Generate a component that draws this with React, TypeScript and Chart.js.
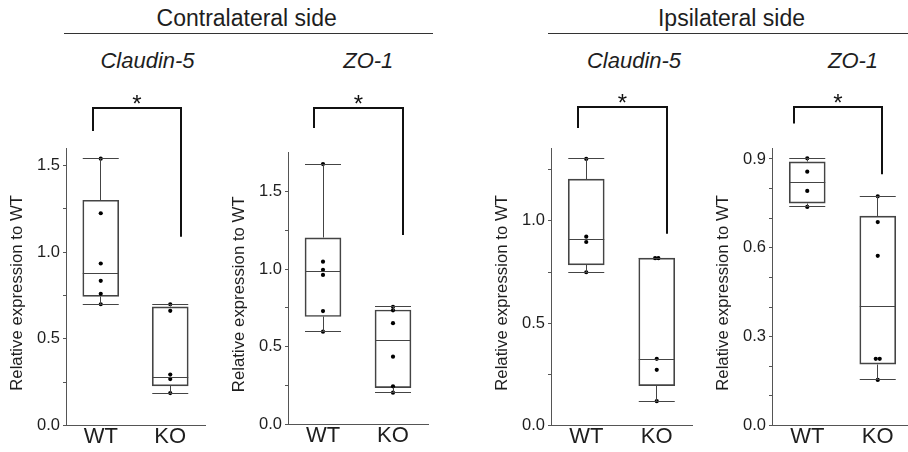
import React, { useEffect, useRef } from 'react';
import { Chart, registerables } from 'chart.js';

Chart.register(...registerables);

const FONT = "'Liberation Sans', Arial, Helvetica, sans-serif";

const groups = ['WT', 'KO'];
const sideTitles = ['Contralateral side', 'Ipsilateral side'];
const geneTitles = ['Claudin-5', 'ZO-1', 'Claudin-5', 'ZO-1'];
const yTitle = 'Relative expression to WT';
const sigMark = '*';

// box summaries: [min, q1, median, q3, max]
const contraCldn5WT = [0.70, 0.745, 0.88, 1.30, 1.54];
const contraCldn5KO = [0.187, 0.229, 0.279, 0.685, 0.70];
const contraZo1WT = [0.597, 0.695, 0.983, 1.202, 1.678];
const contraZo1KO = [0.204, 0.236, 0.539, 0.737, 0.758];
const ipsiCldn5WT = [0.749, 0.785, 0.907, 1.204, 1.303];
const ipsiCldn5KO = [0.119, 0.195, 0.324, 0.818, 0.818];
const ipsiZo1WT = [0.738, 0.751, 0.822, 0.890, 0.902];
const ipsiZo1KO = [0.154, 0.207, 0.401, 0.707, 0.774];

// individual data points
const contraCldn5WTPts = [1.54, 1.225, 0.935, 0.835, 0.76, 0.70];
const contraCldn5KOPts = [0.70, 0.662, 0.294, 0.268, 0.187];
const contraZo1WTPts = [1.678, 1.049, 0.996, 0.963, 0.73, 0.597];
const contraZo1KOPts = [0.758, 0.735, 0.652, 0.436, 0.245, 0.204];
const ipsiCldn5WTPts = [1.303, 0.923, 0.897, 0.749];
const ipsiCldn5KOPts = [0.818, 0.818, 0.326, 0.272, 0.119];
const ipsiZo1WTPts = [0.902, 0.857, 0.792, 0.738];
const ipsiZo1KOPts = [0.774, 0.687, 0.573, 0.225, 0.225, 0.154];

// horizontal jitter of overlapping points (category units)
const ipsiCldn5KOJitter = [-0.023, 0.023, 0, 0, 0];
const ipsiZo1KOJitter = [0, 0, 0, -0.028, 0.028, 0];

// y-axis ticks
const ticksA = [0, 0.25, 0.5, 0.75, 1.0, 1.25, 1.5];
const labelsA = [0, 0.5, 1.0, 1.5];
const ticksC = [0, 0.25, 0.5, 0.75, 1.0, 1.25];
const labelsC = [0, 0.5, 1.0];
const ticksD = [0, 0.1, 0.2, 0.3, 0.4, 0.5, 0.6, 0.7, 0.8, 0.9];
const labelsD = [0, 0.3, 0.6, 0.9];
const yMaxes = [1.6, 1.754, 1.355, 0.936];

// significance brackets: leg end values and x extents
const bracketLeftEnd = [1.70, 1.91, 1.454, 1.02];
const bracketRightEnd = [1.09, 1.22, 0.937, 0.848];
const bracketXFrom = [-0.11, -0.131, -0.122, -0.183];
const bracketXTo = [1.153, 1.138, 1.149, 1.063];

const panels = [
  { wt: contraCldn5WT, ko: contraCldn5KO, wtPts: contraCldn5WTPts, koPts: contraCldn5KOPts, koJit: null, ticks: ticksA, labels: labelsA },
  { wt: contraZo1WT, ko: contraZo1KO, wtPts: contraZo1WTPts, koPts: contraZo1KOPts, koJit: null, ticks: ticksA, labels: labelsA },
  { wt: ipsiCldn5WT, ko: ipsiCldn5KO, wtPts: ipsiCldn5WTPts, koPts: ipsiCldn5KOPts, koJit: ipsiCldn5KOJitter, ticks: ticksC, labels: labelsC },
  { wt: ipsiZo1WT, ko: ipsiZo1KO, wtPts: ipsiZo1WTPts, koPts: ipsiZo1KOPts, koJit: ipsiZo1KOJitter, ticks: ticksD, labels: labelsD },
];

const layout = [
  { axisX: 66, right: 209, top: 148.3, bottom: 425.5, bracketTop: 108, geneX: 147.5 },
  { axisX: 288, right: 432, top: 152.3, bottom: 424.3, bracketTop: 108, geneX: 368.3 },
  { axisX: 551, right: 696, top: 148.3, bottom: 425.5, bracketTop: 107, geneX: 634 },
  { axisX: 772, right: 917, top: 148.3, bottom: 425.5, bracketTop: 107, geneX: 853 },
];

const YAXIS_W = 66;
const BOX_W = 36;
const H = 452;
const LINE = '#444';
const TEXT = '#1e1e1e';

const crisp = (v: number) => Math.floor(v) + 0.5;

const boxPlugin = {
  id: 'boxExtras',
  afterDatasetsDraw(chart: any, _args: any, opts: any) {
    const idx = opts.idx;
    const p = panels[idx];
    const L = layout[idx];
    const { ctx } = chart;
    const xs = chart.scales.x;
    const ys = chart.scales.y;
    ctx.save();
    ctx.strokeStyle = LINE;
    ctx.lineWidth = 1;
    [p.wt, p.ko].forEach((b, i) => {
      const cx = xs.getPixelForValue(i);
      const x0 = cx - BOX_W / 2;
      const x1 = cx + BOX_W / 2;
      const [mn, q1, md, q3, mx] = b.map((v: number) => crisp(ys.getPixelForValue(v)));
      const cxx = crisp(cx);
      ctx.beginPath();
      ctx.moveTo(x0, md); ctx.lineTo(x1, md);
      ctx.moveTo(cxx, q3); ctx.lineTo(cxx, mx);
      ctx.moveTo(x0, mx); ctx.lineTo(x1, mx);
      ctx.moveTo(cxx, q1); ctx.lineTo(cxx, mn);
      ctx.moveTo(x0, mn); ctx.lineTo(x1, mn);
      ctx.stroke();
    });
    // significance bracket
    const xl = Math.round(xs.getPixelForValue(bracketXFrom[idx]));
    const xr = Math.round(xs.getPixelForValue(bracketXTo[idx]));
    const yl = ys.getPixelForValue(bracketLeftEnd[idx]);
    const yr = ys.getPixelForValue(bracketRightEnd[idx]);
    const top = L.bracketTop;
    ctx.strokeStyle = '#111';
    ctx.lineWidth = 2;
    ctx.lineJoin = 'miter';
    ctx.beginPath();
    ctx.moveTo(xl, yl);
    ctx.lineTo(xl, top);
    ctx.lineTo(xr, top);
    ctx.lineTo(xr, yr);
    ctx.stroke();
    ctx.fillStyle = '#111';
    ctx.font = `24px ${FONT}`;
    ctx.textAlign = 'center';
    ctx.textBaseline = 'alphabetic';
    ctx.fillText(sigMark, (xl + xr) / 2, top + 4);
    // y-axis title
    ctx.fillStyle = TEXT;
    ctx.font = `16.8px ${FONT}`;
    ctx.translate(YAXIS_W - 48.5, (L.top + L.bottom) / 2 + 6);
    ctx.rotate(-Math.PI / 2);
    ctx.textBaseline = 'middle';
    ctx.fillText(yTitle, 0, 0);
    ctx.restore();
  },
};

function Panel({ idx }: { idx: number }) {
  const ref = useRef<HTMLCanvasElement | null>(null);
  const L = layout[idx];
  const width = YAXIS_W + (L.right - L.axisX);
  useEffect(() => {
    const p = panels[idx];
    const pts = [
      ...p.wtPts.map((v: number) => ({ x: 0, y: v })),
      ...p.koPts.map((v: number, j: number) => ({ x: 1 + (p.koJit ? p.koJit[j] : 0), y: v })),
    ];
    const chart = new Chart(ref.current as HTMLCanvasElement, {
      type: 'bar',
      data: {
        datasets: [
          {
            type: 'scatter',
            data: pts,
            pointRadius: 2.1,
            pointBackgroundColor: '#000',
            pointBorderWidth: 0,
            order: 0,
          } as any,
          {
            type: 'bar',
            data: [
              { x: 0, y: [p.wt[1], p.wt[3]] },
              { x: 1, y: [p.ko[1], p.ko[3]] },
            ],
            backgroundColor: 'rgba(0,0,0,0)',
            borderColor: LINE,
            borderWidth: 1,
            borderSkipped: false,
            barThickness: BOX_W,
            order: 1,
          } as any,
        ],
      },
      options: {
        responsive: false,
        animation: false,
        devicePixelRatio: 1,
        events: [],
        layout: { padding: { top: L.top, left: 0, right: 0, bottom: 0 } },
        plugins: {
          legend: { display: false },
          tooltip: { enabled: false },
          boxExtras: { idx },
        } as any,
        scales: {
          x: {
            type: 'linear',
            min: -0.5,
            max: 1.5,
            offset: false,
            bounds: 'data',
            afterBuildTicks: (s: any) => { s.ticks = [{ value: 0 }, { value: 1 }]; },
            afterFit: (s: any) => { s.height = H - L.bottom; },
            grid: { display: false, drawTicks: false },
            border: { display: true, color: '#555', width: 1 },
            ticks: {
              callback: (_v: any, i: number) => groups[i],
              font: { size: 22, family: FONT },
              color: TEXT,
              padding: -2,
              maxRotation: 0,
              autoSkip: false,
            },
          },
          y: {
            type: 'linear',
            min: 0,
            max: yMaxes[idx],
            afterBuildTicks: (s: any) => { s.ticks = p.ticks.map((v: number) => ({ value: v })); },
            afterFit: (s: any) => { s.width = YAXIS_W; },
            grid: { drawOnChartArea: false, drawTicks: true, tickLength: 3, tickColor: '#555' },
            border: { display: true, color: '#555', width: 1 },
            ticks: {
              callback: (v: any) => (p.labels.some((l: number) => Math.abs(l - v) < 1e-9) ? Number(v).toFixed(1) : ''),
              font: { size: 16.5, family: FONT },
              color: TEXT,
              padding: 3,
              autoSkip: false,
            },
          },
        } as any,
      },
      plugins: [boxPlugin as any],
    });
    return () => chart.destroy();
  }, [idx]);
  return (
    <canvas
      ref={ref}
      width={width}
      height={H}
      style={{ position: 'absolute', left: L.axisX - YAXIS_W, top: 0, width, height: H }}
    />
  );
}

const textStyle = (fs: number, baseline: number, cx: number, italic = false): React.CSSProperties => ({
  position: 'absolute',
  left: cx,
  top: baseline - 0.8465 * fs,
  transform: 'translateX(-50%)',
  fontFamily: FONT,
  fontSize: fs,
  lineHeight: `${fs}px`,
  fontStyle: italic ? 'italic' : 'normal',
  color: TEXT,
  whiteSpace: 'nowrap',
});

export default function App() {
  return (
    <div style={{ position: 'fixed', left: 0, top: 0, width: 908, height: H, overflow: 'hidden', background: '#fff' }}>
      <div style={textStyle(23, 26.7, 246.7)}>{sideTitles[0]}</div>
      <div style={textStyle(23, 26.7, 731.5)}>{sideTitles[1]}</div>
      <div style={{ position: 'absolute', left: 64, top: 33, width: 369, height: 1, background: '#333' }} />
      <div style={{ position: 'absolute', left: 548, top: 33, width: 360, height: 1, background: '#333' }} />
      {geneTitles.map((g, i) => (
        <div key={i} style={textStyle(22, 68.3, layout[i].geneX, true)}>{g}</div>
      ))}
      {[0, 1, 2, 3].map((i) => (
        <Panel key={i} idx={i} />
      ))}
    </div>
  );
}
